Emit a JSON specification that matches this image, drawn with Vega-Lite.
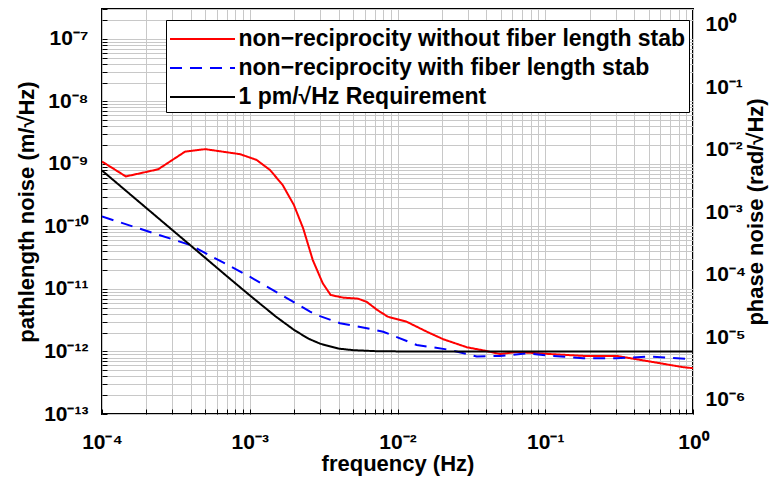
{
  "$schema": "https://vega.github.io/schema/vega-lite/v6.json",
  "width": 591,
  "height": 405,
  "autosize": {"type": "none"},
  "padding": {"left": 102, "top": 9, "right": 85, "bottom": 67},
  "background": "white",
  "config": {
    "view": {"stroke": "black", "strokeWidth": 2},
    "font": "Liberation Sans",
    "axis": {"labelFont": "Liberation Sans", "labelFontWeight": "bold", "labelFontSize": 21, "labelColor": "black", "titleFont": "Liberation Sans", "titleFontWeight": "bold", "titleFontSize": 22, "titleColor": "black", "ticks": true, "tickSize": -5, "tickColor": "black", "tickWidth": 1, "domain": false, "gridColor": "#c8c8c8", "gridWidth": 1, "gridOpacity": 1, "labelOverlap": false, "labelFlush": false}
  },
  "layer": [
    {
      "data": {"values": [
        {"s": "non−reciprocity without fiber length stab", "f": 0.0001, "v": 1.09e-9},
        {"s": "non−reciprocity without fiber length stab", "f": 0.000145, "v": 6.3e-10},
        {"s": "non−reciprocity without fiber length stab", "f": 0.00024, "v": 8.2e-10},
        {"s": "non−reciprocity without fiber length stab", "f": 0.000365, "v": 1.57e-9},
        {"s": "non−reciprocity without fiber length stab", "f": 0.0005, "v": 1.72e-9},
        {"s": "non−reciprocity without fiber length stab", "f": 0.00086, "v": 1.43e-9},
        {"s": "non−reciprocity without fiber length stab", "f": 0.00111, "v": 1.16e-9},
        {"s": "non−reciprocity without fiber length stab", "f": 0.00137, "v": 8.0e-10},
        {"s": "non−reciprocity without fiber length stab", "f": 0.00167, "v": 4.6e-10},
        {"s": "non−reciprocity without fiber length stab", "f": 0.00199, "v": 2.2e-10},
        {"s": "non−reciprocity without fiber length stab", "f": 0.0023, "v": 9.3e-11},
        {"s": "non−reciprocity without fiber length stab", "f": 0.00267, "v": 2.9e-11},
        {"s": "non−reciprocity without fiber length stab", "f": 0.00312, "v": 1.23e-11},
        {"s": "non−reciprocity without fiber length stab", "f": 0.00353, "v": 8.0e-12},
        {"s": "non−reciprocity without fiber length stab", "f": 0.0043, "v": 7.25e-12},
        {"s": "non−reciprocity without fiber length stab", "f": 0.0054, "v": 7.0e-12},
        {"s": "non−reciprocity without fiber length stab", "f": 0.0062, "v": 6.2e-12},
        {"s": "non−reciprocity without fiber length stab", "f": 0.0073, "v": 4.6e-12},
        {"s": "non−reciprocity without fiber length stab", "f": 0.0086, "v": 3.6e-12},
        {"s": "non−reciprocity without fiber length stab", "f": 0.0115, "v": 3.0e-12},
        {"s": "non−reciprocity without fiber length stab", "f": 0.0158, "v": 2.07e-12},
        {"s": "non−reciprocity without fiber length stab", "f": 0.0204, "v": 1.57e-12},
        {"s": "non−reciprocity without fiber length stab", "f": 0.0294, "v": 1.17e-12},
        {"s": "non−reciprocity without fiber length stab", "f": 0.039, "v": 1.03e-12},
        {"s": "non−reciprocity without fiber length stab", "f": 0.0494, "v": 9.1e-13},
        {"s": "non−reciprocity without fiber length stab", "f": 0.064, "v": 9.8e-13},
        {"s": "non−reciprocity without fiber length stab", "f": 0.108, "v": 9.1e-13},
        {"s": "non−reciprocity without fiber length stab", "f": 0.181, "v": 8.5e-13},
        {"s": "non−reciprocity without fiber length stab", "f": 0.304, "v": 8.5e-13},
        {"s": "non−reciprocity without fiber length stab", "f": 0.512, "v": 6.9e-13},
        {"s": "non−reciprocity without fiber length stab", "f": 0.86, "v": 5.6e-13},
        {"s": "non−reciprocity without fiber length stab", "f": 1.0, "v": 5.4e-13},
        {"s": "non−reciprocity with fiber length stab", "f": 0.0001, "v": 1.44e-10},
        {"s": "non−reciprocity with fiber length stab", "f": 0.000394, "v": 5.06e-11},
        {"s": "non−reciprocity with fiber length stab", "f": 0.001, "v": 1.57e-11},
        {"s": "non−reciprocity with fiber length stab", "f": 0.00256, "v": 4.34e-12},
        {"s": "non−reciprocity with fiber length stab", "f": 0.00284, "v": 3.84e-12},
        {"s": "non−reciprocity with fiber length stab", "f": 0.00408, "v": 2.83e-12},
        {"s": "non−reciprocity with fiber length stab", "f": 0.0062, "v": 2.35e-12},
        {"s": "non−reciprocity with fiber length stab", "f": 0.008, "v": 2.07e-12},
        {"s": "non−reciprocity with fiber length stab", "f": 0.0135, "v": 1.27e-12},
        {"s": "non−reciprocity with fiber length stab", "f": 0.0226, "v": 1.06e-12},
        {"s": "non−reciprocity with fiber length stab", "f": 0.0344, "v": 8.3e-13},
        {"s": "non−reciprocity with fiber length stab", "f": 0.0494, "v": 8.5e-13},
        {"s": "non−reciprocity with fiber length stab", "f": 0.0748, "v": 9.3e-13},
        {"s": "non−reciprocity with fiber length stab", "f": 0.114, "v": 8.5e-13},
        {"s": "non−reciprocity with fiber length stab", "f": 0.181, "v": 7.8e-13},
        {"s": "non−reciprocity with fiber length stab", "f": 0.304, "v": 7.8e-13},
        {"s": "non−reciprocity with fiber length stab", "f": 0.512, "v": 8.3e-13},
        {"s": "non−reciprocity with fiber length stab", "f": 1.0, "v": 7.5e-13},
        {"s": "1 pm/√Hz Requirement", "f": 0.0001, "v": 7.84e-10},
        {"s": "1 pm/√Hz Requirement", "f": 0.0002, "v": 1.96e-10},
        {"s": "1 pm/√Hz Requirement", "f": 0.0003, "v": 8.71e-11},
        {"s": "1 pm/√Hz Requirement", "f": 0.0005, "v": 3.14e-11},
        {"s": "1 pm/√Hz Requirement", "f": 0.0007, "v": 1.6e-11},
        {"s": "1 pm/√Hz Requirement", "f": 0.001, "v": 7.9e-12},
        {"s": "1 pm/√Hz Requirement", "f": 0.0015, "v": 3.62e-12},
        {"s": "1 pm/√Hz Requirement", "f": 0.002, "v": 2.2e-12},
        {"s": "1 pm/√Hz Requirement", "f": 0.0025, "v": 1.6e-12},
        {"s": "1 pm/√Hz Requirement", "f": 0.003, "v": 1.33e-12},
        {"s": "1 pm/√Hz Requirement", "f": 0.004, "v": 1.11e-12},
        {"s": "1 pm/√Hz Requirement", "f": 0.005, "v": 1.05e-12},
        {"s": "1 pm/√Hz Requirement", "f": 0.007, "v": 1.013e-12},
        {"s": "1 pm/√Hz Requirement", "f": 0.01, "v": 1.003e-12},
        {"s": "1 pm/√Hz Requirement", "f": 0.02, "v": 1.0e-12},
        {"s": "1 pm/√Hz Requirement", "f": 0.1, "v": 1.0e-12},
        {"s": "1 pm/√Hz Requirement", "f": 1.0, "v": 1.0e-12}
      ]},
      "mark": {"type": "line", "strokeWidth": 2, "clip": true},
      "encoding": {
        "x": {"field": "f", "type": "quantitative",
          "scale": {"type": "log", "domain": [0.0001, 1], "nice": false},
          "axis": {"title": "frequency (Hz)", "titlePadding": 1, "labelPadding": 22,
            "values": [0.0001,0.0002,0.0003,0.0004,0.0005,0.0006,0.0007,0.0008,0.0009,0.001,0.002,0.003,0.004,0.005,0.006,0.007,0.008,0.009,0.01,0.02,0.03,0.04,0.05,0.06,0.07,0.08,0.09,0.1,0.2,0.3,0.4,0.5,0.6,0.7,0.8,0.9,1],
            "labelExpr": "datum.value == 0.0001 ? '10⁻⁴' : datum.value == 0.001 ? '10⁻³' : datum.value == 0.01 ? '10⁻²' : datum.value == 0.1 ? '10⁻¹' : datum.value == 1 ? '10⁰' : ''"}},
        "y": {"field": "v", "type": "quantitative",
          "scale": {"type": "log", "domain": [1e-13, 3e-7], "nice": false},
          "axis": {"title": "pathlength noise (m/√Hz)", "titlePadding": 5, "labelPadding": 19,
            "values": [1e-13,2e-13,3e-13,4e-13,5e-13,6e-13,7e-13,8e-13,9e-13,1e-12,2e-12,3e-12,4e-12,5e-12,6e-12,7e-12,8e-12,9e-12,1e-11,2e-11,3e-11,4e-11,5e-11,6e-11,7e-11,8e-11,9e-11,1e-10,2e-10,3e-10,4e-10,5e-10,6e-10,7e-10,8e-10,9e-10,1e-9,2e-9,3e-9,4e-9,5e-9,6e-9,7e-9,8e-9,9e-9,1e-8,2e-8,3e-8,4e-8,5e-8,6e-8,7e-8,8e-8,9e-8,1e-7,2e-7,3e-7],
            "labelExpr": "datum.value == 1e-13 ? '10⁻¹³' : datum.value == 1e-12 ? '10⁻¹²' : datum.value == 1e-11 ? '10⁻¹¹' : datum.value == 1e-10 ? '10⁻¹⁰' : datum.value == 1e-9 ? '10⁻⁹' : datum.value == 1e-8 ? '10⁻⁸' : datum.value == 1e-7 ? '10⁻⁷' : ''"}},
        "color": {"field": "s", "type": "nominal",
          "scale": {"domain": ["non−reciprocity without fiber length stab", "non−reciprocity with fiber length stab", "1 pm/√Hz Requirement"], "range": ["#ff0000", "#0000ff", "#000000"]},
          "legend": {"title": null, "orient": "none", "legendX": 64, "legendY": 11, "fillColor": "white", "strokeColor": "black", "padding": 3, "rowPadding": 1, "labelFont": "Liberation Sans", "labelFontWeight": "bold", "labelFontSize": 23, "labelColor": "black", "labelLimit": 700, "symbolType": "M-2.167,0H2.167", "symbolSize": 900, "symbolStrokeWidth": 2, "symbolOffset": 17.5, "labelOffset": 20}},
        "strokeDash": {"field": "s", "type": "nominal",
          "scale": {"domain": ["non−reciprocity without fiber length stab", "non−reciprocity with fiber length stab", "1 pm/√Hz Requirement"], "range": [[1, 0], [12, 8], [1, 0]]},
          "legend": null}
      }
    },
    {
      "data": {"values": [{"p": 5.905e-7}, {"p": 1.77}]},
      "mark": {"type": "point", "opacity": 0},
      "encoding": {
        "y": {"field": "p", "type": "quantitative",
          "scale": {"type": "log", "domain": [5.905e-7, 1.77], "nice": false},
          "axis": {"orient": "right", "grid": false, "ticks": false, "title": "phase noise (rad/√Hz)", "titleAngle": -90, "titlePadding": 22, "labelPadding": 12,
            "values": [1e-6, 1e-5, 1e-4, 1e-3, 1e-2, 1e-1, 1],
            "labelExpr": "datum.value == 1e-6 ? '10⁻⁶' : datum.value == 1e-5 ? '10⁻⁵' : datum.value == 1e-4 ? '10⁻⁴' : datum.value == 1e-3 ? '10⁻³' : datum.value == 1e-2 ? '10⁻²' : datum.value == 1e-1 ? '10⁻¹' : '10⁰'"}}
      }
    }
  ],
  "resolve": {"scale": {"y": "independent"}}
}
